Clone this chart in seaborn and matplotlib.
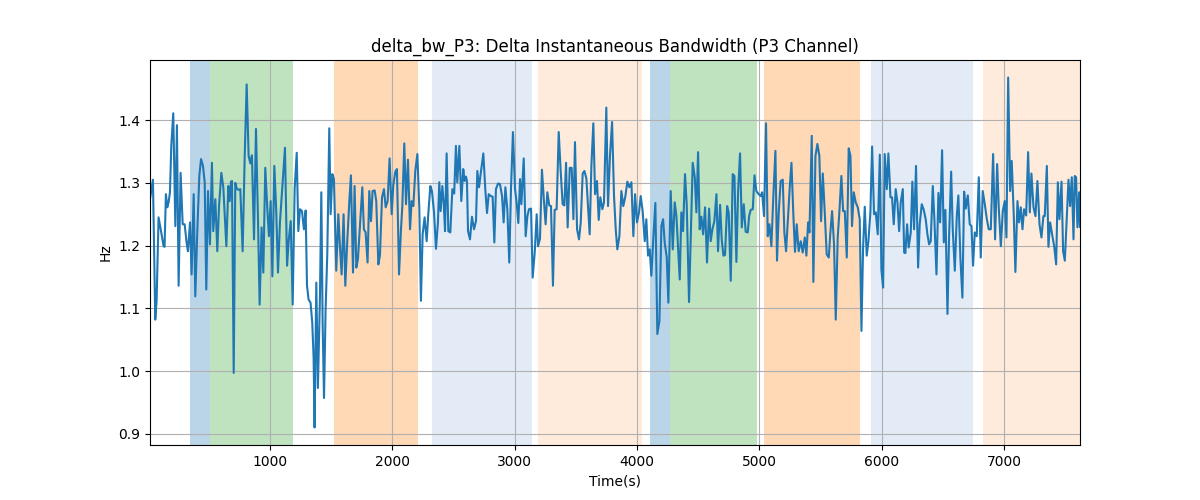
import matplotlib
matplotlib.use("Agg")
import matplotlib.pyplot as plt
import seaborn as sns
import pandas as pd

# time (s) and delta bandwidth (Hz)
time_s = [
    20, 44, 63, 74, 90, 112, 131, 139, 150, 161, 172, 183, 194, 210, 227, 240, 254, 270, 287, 303,
    319, 330, 347, 360, 377, 390, 407, 423, 437, 453, 467, 480, 494, 510, 526, 537, 554, 570, 584, 603,
    619, 644, 660, 671, 682, 690, 704, 717, 731, 744, 758, 777, 794, 810, 826, 840, 853, 870, 886, 903,
    916, 932, 946, 962, 979, 992, 1006, 1020, 1036, 1052, 1066, 1082, 1104, 1123, 1140, 1153, 1170, 1186, 1202, 1219,
    1232, 1246, 1262, 1278, 1292, 1303, 1316, 1332, 1346, 1357, 1365, 1379, 1392, 1409, 1420, 1431, 1442, 1455, 1469, 1485,
    1496, 1510, 1523, 1542, 1559, 1572, 1586, 1602, 1616, 1632, 1649, 1662, 1679, 1692, 1706, 1719, 1739, 1755, 1768, 1782,
    1798, 1812, 1826, 1839, 1856, 1869, 1886, 1899, 1916, 1932, 1946, 1962, 1978, 1995, 2008, 2025, 2038, 2055, 2071, 2082,
    2098, 2112, 2128, 2145, 2158, 2172, 2188, 2205, 2221, 2234, 2248, 2264, 2281, 2294, 2311, 2324, 2341, 2357, 2373, 2384,
    2395, 2409, 2420, 2431, 2444, 2458, 2474, 2491, 2506, 2520, 2531, 2548, 2564, 2580, 2591, 2602, 2610, 2619, 2635, 2651,
    2668, 2684, 2695, 2709, 2722, 2744, 2760, 2774, 2788, 2804, 2820, 2834, 2847, 2864, 2880, 2897, 2910, 2924, 2940, 2956,
    2970, 2986, 3003, 3016, 3030, 3044, 3055, 3074, 3090, 3104, 3117, 3134, 3147, 3164, 3180, 3191, 3207, 3223, 3240, 3253,
    3267, 3283, 3297, 3313, 3327, 3343, 3360, 3376, 3392, 3406, 3420, 3433, 3450, 3466, 3480, 3493, 3510, 3526, 3540, 3556,
    3570, 3586, 3613, 3627, 3643, 3657, 3673, 3687, 3700, 3717, 3730, 3749, 3763, 3779, 3796, 3812, 3826, 3839, 3856, 3872,
    3888, 3905, 3921, 3937, 3954, 3970, 3984, 4000, 4016, 4030, 4046, 4063, 4076, 4090, 4104, 4117, 4134, 4150, 4166, 4183,
    4199, 4213, 4226, 4243, 4256, 4275, 4292, 4308, 4322, 4335, 4349, 4362, 4376, 4392, 4406, 4425, 4442, 4455, 4472, 4485,
    4499, 4512, 4526, 4540, 4556, 4572, 4589, 4602, 4616, 4632, 4649, 4662, 4679, 4692, 4706, 4719, 4736, 4749, 4766, 4782,
    4796, 4812, 4826, 4842, 4856, 4872, 4888, 4905, 4916, 4929, 4946, 4960, 4975, 4994, 5011, 5022, 5038, 5054, 5068, 5082,
    5098, 5114, 5131, 5144, 5158, 5174, 5191, 5204, 5218, 5234, 5248, 5262, 5278, 5291, 5305, 5321, 5338, 5354, 5371, 5384,
    5398, 5409, 5428, 5441, 5458, 5474, 5490, 5504, 5518, 5534, 5550, 5567, 5580, 5594, 5610, 5624, 5640, 5654, 5670, 5684,
    5698, 5714, 5730, 5744, 5757, 5771, 5787, 5804, 5820, 5834, 5847, 5861, 5877, 5891, 5907, 5921, 5937, 5951, 5967, 5984,
    5997, 6011, 6024, 6041, 6054, 6071, 6084, 6098, 6114, 6128, 6142, 6155, 6172, 6183, 6193, 6207, 6220, 6237, 6250, 6264,
    6280, 6297, 6310, 6327, 6343, 6359, 6373, 6387, 6400, 6417, 6430, 6447, 6463, 6477, 6493, 6507, 6520, 6537, 6550, 6567,
    6580, 6597, 6613, 6626, 6643, 6659, 6673, 6686, 6703, 6719, 6733, 6746, 6760, 6776, 6793, 6809, 6825, 6842, 6858, 6874,
    6891, 6910, 6926, 6943, 6956, 6973, 6989, 7005, 7019, 7033, 7049, 7062, 7079, 7092, 7109, 7122, 7136, 7150, 7163, 7180,
    7196, 7210, 7223, 7240, 7256, 7272, 7289, 7305, 7321, 7332, 7349, 7362, 7376, 7392, 7409, 7425, 7439, 7452, 7469, 7482,
    7496, 7509, 7526, 7539, 7553, 7567, 7577, 7588, 7599, 7613, 7620,
]
delta_bw = [
    1.274, 1.305, 1.082, 1.112, 1.245, 1.221, 1.199, 1.198, 1.282, 1.261, 1.269, 1.285, 1.359, 1.411, 1.231, 1.392, 1.136, 1.316, 1.234, 1.234,
    1.205, 1.191, 1.237, 1.154, 1.282, 1.119, 1.226, 1.311, 1.338, 1.327, 1.301, 1.130, 1.287, 1.202, 1.332, 1.223, 1.274, 1.191, 1.263, 1.316,
    1.293, 1.199, 1.295, 1.271, 1.302, 1.303, 0.997, 1.300, 1.290, 1.289, 1.290, 1.191, 1.343, 1.457, 1.343, 1.331, 1.344, 1.210, 1.386, 1.237,
    1.106, 1.229, 1.157, 1.324, 1.258, 1.215, 1.271, 1.151, 1.327, 1.253, 1.157, 1.237, 1.301, 1.356, 1.168, 1.207, 1.239, 1.106, 1.290, 1.348,
    1.223, 1.258, 1.255, 1.226, 1.256, 1.136, 1.114, 1.109, 1.077, 1.021, 0.910, 1.141, 0.973, 1.120, 1.285, 1.072, 0.957, 1.098, 1.188, 1.387,
    1.250, 1.314, 1.306, 1.160, 1.250, 1.199, 1.154, 1.250, 1.136, 1.207, 1.271, 1.312, 1.157, 1.295, 1.165, 1.178, 1.242, 1.293, 1.226, 1.221,
    1.173, 1.287, 1.239, 1.287, 1.288, 1.271, 1.170, 1.184, 1.277, 1.290, 1.261, 1.271, 1.339, 1.250, 1.296, 1.318, 1.322, 1.154, 1.226, 1.263,
    1.363, 1.266, 1.337, 1.226, 1.271, 1.263, 1.319, 1.346, 1.258, 1.112, 1.218, 1.245, 1.207, 1.250, 1.295, 1.287, 1.253, 1.195, 1.237, 1.301,
    1.255, 1.295, 1.269, 1.223, 1.347, 1.223, 1.221, 1.290, 1.283, 1.359, 1.301, 1.359, 1.271, 1.322, 1.303, 1.310, 1.303, 1.223, 1.210, 1.246,
    1.226, 1.239, 1.319, 1.293, 1.314, 1.347, 1.290, 1.252, 1.282, 1.279, 1.278, 1.205, 1.290, 1.299, 1.298, 1.279, 1.237, 1.293, 1.258, 1.173,
    1.290, 1.381, 1.290, 1.269, 1.236, 1.306, 1.266, 1.339, 1.215, 1.247, 1.258, 1.259, 1.149, 1.189, 1.250, 1.199, 1.211, 1.321, 1.269, 1.234,
    1.285, 1.264, 1.263, 1.136, 1.257, 1.258, 1.381, 1.319, 1.266, 1.264, 1.332, 1.229, 1.324, 1.324, 1.242, 1.365, 1.226, 1.210, 1.237, 1.315,
    1.319, 1.307, 1.218, 1.327, 1.395, 1.282, 1.303, 1.241, 1.277, 1.258, 1.269, 1.420, 1.263, 1.343, 1.397, 1.279, 1.226, 1.194, 1.215, 1.287,
    1.263, 1.279, 1.302, 1.293, 1.301, 1.215, 1.282, 1.237, 1.253, 1.279, 1.255, 1.207, 1.242, 1.184, 1.194, 1.152, 1.215, 1.268, 1.059, 1.080,
    1.231, 1.242, 1.205, 1.181, 1.109, 1.287, 1.194, 1.269, 1.247, 1.199, 1.146, 1.253, 1.223, 1.314, 1.266, 1.110, 1.234, 1.332, 1.309, 1.253,
    1.349, 1.226, 1.246, 1.218, 1.261, 1.173, 1.259, 1.207, 1.226, 1.239, 1.282, 1.191, 1.265, 1.210, 1.184, 1.185, 1.263, 1.253, 1.144, 1.314,
    1.311, 1.174, 1.287, 1.347, 1.229, 1.266, 1.222, 1.221, 1.247, 1.257, 1.258, 1.312, 1.287, 1.282, 1.279, 1.285, 1.247, 1.395, 1.215, 1.234,
    1.199, 1.279, 1.351, 1.176, 1.253, 1.303, 1.305, 1.221, 1.191, 1.247, 1.293, 1.332, 1.247, 1.190, 1.234, 1.191, 1.207, 1.189, 1.213, 1.184,
    1.237, 1.221, 1.375, 1.142, 1.343, 1.362, 1.343, 1.239, 1.315, 1.253, 1.186, 1.181, 1.221, 1.255, 1.202, 1.082, 1.213, 1.255, 1.311, 1.255,
    1.255, 1.181, 1.355, 1.343, 1.231, 1.285, 1.269, 1.261, 1.242, 1.064, 1.194, 1.262, 1.184, 1.207, 1.253, 1.358, 1.250, 1.253, 1.218, 1.345,
    1.162, 1.133, 1.346, 1.290, 1.347, 1.277, 1.277, 1.234, 1.290, 1.269, 1.223, 1.269, 1.290, 1.189, 1.188, 1.234, 1.197, 1.221, 1.302, 1.226,
    1.327, 1.165, 1.234, 1.266, 1.257, 1.242, 1.218, 1.202, 1.207, 1.295, 1.242, 1.154, 1.284, 1.237, 1.352, 1.205, 1.257, 1.091, 1.213, 1.318,
    1.226, 1.160, 1.247, 1.280, 1.178, 1.117, 1.286, 1.259, 1.280, 1.234, 1.231, 1.168, 1.221, 1.215, 1.309, 1.181, 1.287, 1.266, 1.243, 1.226,
    1.226, 1.346, 1.210, 1.330, 1.261, 1.199, 1.255, 1.271, 1.213, 1.468, 1.287, 1.335, 1.247, 1.158, 1.271, 1.237, 1.261, 1.226, 1.258, 1.248,
    1.349, 1.253, 1.315, 1.261, 1.247, 1.303, 1.234, 1.213, 1.247, 1.247, 1.327, 1.198, 1.237, 1.218, 1.199, 1.170, 1.301, 1.242, 1.302, 1.191,
    1.176, 1.231, 1.305, 1.263, 1.309, 1.210, 1.311, 1.309, 1.229, 1.285, 1.230,
]

# shaded segments: start, end, colour, alpha
seg_start = [345, 507, 1520, 2322, 3188, 4104, 4270, 5035, 5913, 6825]
seg_end = [507, 1191, 2212, 3139, 4044, 4270, 4978, 5826, 6744, 7620]
seg_color = ["tab:blue", "tab:green", "tab:orange", "#aec7e8", "tab:orange",
             "tab:blue", "tab:green", "tab:orange", "#aec7e8", "tab:orange"]
seg_alpha = [0.3, 0.3, 0.3, 0.35, 0.15, 0.3, 0.3, 0.3, 0.35, 0.15]

df = pd.DataFrame({"time": time_s, "bw": delta_bw})

fig, ax = plt.subplots(figsize=(12, 5), dpi=100)

for s, e, c, a in zip(seg_start, seg_end, seg_color, seg_alpha):
    ax.axvspan(s, e, color=c, alpha=a, lw=0)

sns.lineplot(data=df, x="time", y="bw", ax=ax, color="tab:blue", linewidth=1.5)

ax.set_xlim(df["time"].min(), df["time"].max())
ax.set_title("delta_bw_P3: Delta Instantaneous Bandwidth (P3 Channel)")
ax.set_xlabel("Time(s)")
ax.set_ylabel("Hz")
ax.grid(True)

fig.savefig("out.png")
